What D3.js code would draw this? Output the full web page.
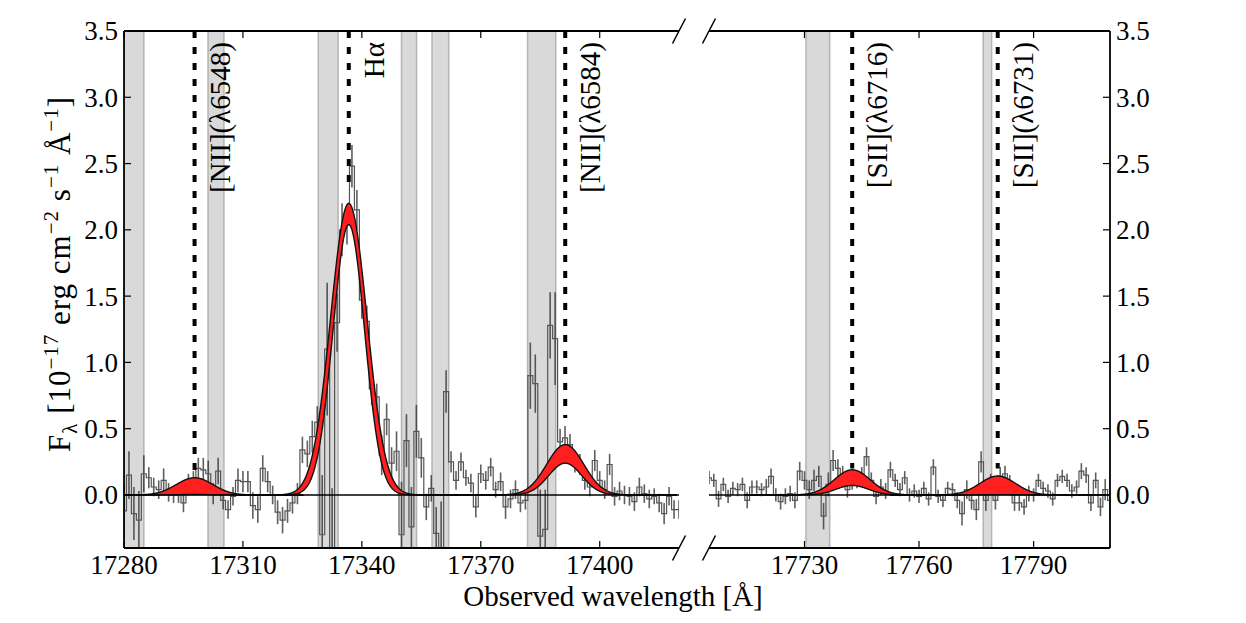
<!DOCTYPE html>
<html><head><meta charset="utf-8">
<script src="https://cdn.jsdelivr.net/npm/d3@7"></script>
<style>
body{margin:0;background:#fff}
svg{display:block}
text{font-family:"Liberation Serif","Times New Roman",serif;fill:#000}
</style>
</head><body>
<svg id="chart" width="1246" height="623"></svg>
<script>
// ---------------- data ----------------
const binStep = 1.25;           // Å per spectral bin
const leftStart = 17280;        // first bin, left panel
const rightStart = 17705;       // first bin, right panel

const leftFlux = [
 -0.12,0.15,-0.14,-0.19,0.16,0.13,0.06,0.04,0.11,0.02,
 0.00,0.01,-0.06,0.08,0.11,0.20,0.19,0.16,0.01,0.18,
 -0.04,-0.11,-0.01,0.11,0.10,0.10,-0.08,-0.11,0.20,0.10,
 0.00,-0.13,-0.19,-0.12,-0.06,0.01,0.34,0.31,0.44,0.55,
 -0.30,1.10,-0.45,1.30,2.00,2.04,2.48,2.15,1.47,1.31,
 0.80,0.74,0.30,0.57,0.24,0.33,-0.30,0.41,-0.24,0.48,
 0.28,-0.09,0.05,-0.29,-0.40,0.78,0.25,0.11,0.25,0.13,
 0.09,-0.09,0.16,0.11,0.21,0.04,0.10,-0.09,-0.03,0.04,
 -0.06,-0.04,0.90,0.84,-0.31,-0.26,1.28,1.18,0.40,0.43,
 0.38,0.25,0.23,0.11,0.06,0.26,0.11,0.04,0.23,-0.01,
 0.03,0.00,-0.01,-0.05,0.06,0.01,-0.03,-0.01,-0.06,-0.14,
 -0.01,-0.11,-0.11
];
const leftErr = [
 0.20,0.18,0.20,0.22,0.14,
 0.08,0.07,0.07,0.09,0.07,0.06,0.07,0.07,0.08,0.07,0.08,0.09,0.10,0.08,0.10,0.07,
 0.07,0.07,0.09,0.08,0.08,0.10,0.10,0.10,0.08,0.07,0.09,0.10,0.09,0.08,0.08,
 0.10,0.10,0.12,0.12,
 0.45,0.50,0.50,
 0.22,0.20,0.15,0.16,0.15,0.14,0.12,0.12,0.10,0.15,0.12,
 0.12,0.15,0.40,0.20,0.30,0.20,0.15,
 0.10,0.10,0.20,0.35,0.16,
 0.08,0.07,0.07,0.06,0.07,0.08,0.07,0.07,0.07,0.06,0.07,0.09,0.07,0.07,0.07,0.07,
 0.25,0.22,0.35,0.30,0.25,0.35,
 0.10,0.09,0.08,0.08,0.08,0.07,0.07,0.08,0.07,0.07,0.08,0.07,0.07,0.07,0.07,0.07,
 0.07,0.07,0.07,0.06,0.07,0.08,0.07,0.07,0.07
];
const rightFlux = [
 0.13,0.11,-0.03,0.08,-0.01,0.05,0.04,0.08,-0.04,0.06,
 0.06,0.04,0.06,0.14,0.00,-0.05,-0.01,0.01,-0.04,0.18,
 0.11,0.04,0.11,0.14,-0.16,0.08,0.26,0.20,0.15,0.04,
 0.10,0.11,0.15,0.29,0.11,-0.01,0.06,0.03,0.19,0.11,
 0.04,0.13,0.00,0.03,-0.01,0.05,-0.03,0.21,-0.01,-0.04,
 0.05,0.04,-0.04,-0.14,0.04,-0.04,-0.11,0.25,-0.04,0.08,
 -0.04,0.14,0.16,0.09,-0.06,-0.06,-0.09,0.01,0.00,0.11,
 0.05,0.03,-0.03,0.11,0.14,0.11,0.03,0.06,0.18,0.15,
 -0.06,0.11,-0.09,0.04,-0.04
];
const rightErr = [
 0.05,0.05,0.06,0.05,0.05,0.05,0.05,0.05,0.06,0.05,
 0.05,0.05,0.06,0.06,0.05,0.06,0.06,0.06,0.06,0.07,
 0.07,0.07,0.08,0.08,0.10,0.09,0.08,0.07,0.07,0.06,
 0.06,0.06,0.06,0.07,0.06,0.06,0.06,0.06,0.06,0.05,
 0.05,0.05,0.05,0.05,0.05,0.05,0.05,0.06,0.05,0.05,
 0.05,0.05,0.06,0.09,0.07,0.07,0.08,0.08,0.08,0.08,
 0.07,0.07,0.06,0.06,0.06,0.06,0.06,0.06,0.05,0.05,
 0.05,0.05,0.05,0.05,0.05,0.05,0.05,0.05,0.06,0.06,
 0.06,0.06,0.07,0.08,0.15
];

// emission lines
const lineNames   = ["[NII](λ6548)", "Hα", "[NII](λ6584)", "[SII](λ6716)", "[SII](λ6731)"];
const lineCenters = [17297.8, 17336.7, 17391.3, 17742.5, 17780.6];
const linePanel   = [0, 0, 0, 1, 1];
const dashBottom  = [0.18, 2.33, 0.58, 0.20, 0.20];
const ampUpper    = [0.13, 2.20, 0.38, 0.19, 0.143];
const ampLower    = [0.004, 2.04, 0.24, 0.072, 0.003];
const sigUpper    = [4.6, 4.6, 4.7, 4.7, 4.7];
const sigLower    = [4.0, 4.0, 4.2, 4.2, 4.2];

// masked sky-line regions
const skyBands = [[17276,17285],[17301.2,17305.2],[17329,17334],[17350,17353.8],
                  [17357.7,17361.9],[17381.8,17388.9],[17730.4,17736.6],[17776.8,17779]];

const leftTicks  = [17280, 17310, 17340, 17370, 17400];
const rightTicks = [17730, 17760, 17790];
const yTicks     = [0, 0.5, 1.0, 1.5, 2.0, 2.5, 3.0, 3.5];

// ---------------- layout ----------------
const svg = d3.select("#chart");
const yTop = 31, yBot = 548;
const y = d3.scaleLinear().domain([-0.4, 3.5]).range([yBot, yTop]);
const panels = [
  {x: d3.scaleLinear().domain([17280, 17420]).range([124, 679]),
   start: leftStart, flux: leftFlux, err: leftErr, ticks: leftTicks, side: "left"},
  {x: d3.scaleLinear().domain([17705, 17810]).range([709, 1110]),
   start: rightStart, flux: rightFlux, err: rightErr, ticks: rightTicks, side: "right"}
];

const defs = svg.append("defs");
panels.forEach((p, k) => {
  const [x0, x1] = p.x.range();
  defs.append("clipPath").attr("id", "clip" + k)
    .append("rect").attr("x", x0).attr("y", yTop).attr("width", x1 - x0).attr("height", yBot - yTop);
});

panels.forEach((p, k) => {
  const g = svg.append("g").attr("clip-path", `url(#clip${k})`);
  const [d0, d1] = p.x.domain();
  skyBands.filter(b => b[1] > d0 && b[0] < d1).forEach(b => {
    g.append("rect")
      .attr("x", p.x(b[0])).attr("y", yTop)
      .attr("width", p.x(b[1]) - p.x(b[0])).attr("height", yBot - yTop)
      .attr("fill", "#d9d9d9").attr("stroke", "#b4b4b4").attr("stroke-width", 1.5);
  });
  const pts = p.flux.map((f, i) => ({w: p.start + i * binStep, f, e: p.err[i]}));
  g.selectAll("line.err").data(pts).enter().append("line")
    .attr("x1", d => p.x(d.w)).attr("x2", d => p.x(d.w))
    .attr("y1", d => y(d.f - d.e)).attr("y2", d => y(d.f + d.e))
    .attr("stroke", "#2a2a2a").attr("stroke-width", 1.6).attr("opacity", 0.75);
  const ext = [{w: pts[0].w - binStep / 2, f: pts[0].f}, ...pts,
               {w: pts[pts.length - 1].w + binStep / 2, f: pts[pts.length - 1].f}];
  g.append("path").datum(ext)
    .attr("d", d3.line().x(d => p.x(d.w)).y(d => y(d.f)).curve(d3.curveStep))
    .attr("fill", "none").attr("stroke", "#555").attr("stroke-width", 1.2);

  lineCenters.forEach((c, m) => {
    if (linePanel[m] !== k) return;
    const grid = d3.range(c - 6 * sigUpper[m], c + 6 * sigUpper[m], 0.1);
    const gu = w => ampUpper[m] * Math.exp(-0.5 * ((w - c) / sigUpper[m]) ** 2);
    const gl = w => ampLower[m] * Math.exp(-0.5 * ((w - c) / sigLower[m]) ** 2);
    g.append("path").datum(grid)
      .attr("d", d3.area().x(w => p.x(w)).y0(w => y(gl(w))).y1(w => y(gu(w))))
      .attr("fill", "#ff1f1f").attr("stroke", "none");
    [gu, gl].forEach(fn => {
      g.append("path").datum(grid)
        .attr("d", d3.line().x(w => p.x(w)).y(w => y(fn(w))))
        .attr("fill", "none").attr("stroke", "#111").attr("stroke-width", 1.4);
    });
  });

  g.append("line").attr("x1", p.x(d0)).attr("x2", p.x(d1))
    .attr("y1", y(0)).attr("y2", y(0)).attr("stroke", "#000").attr("stroke-width", 1.5);

  lineCenters.forEach((c, m) => {
    if (linePanel[m] !== k) return;
    g.append("line").attr("x1", p.x(c)).attr("x2", p.x(c))
      .attr("y1", y(3.5)).attr("y2", y(dashBottom[m]))
      .attr("stroke", "#000").attr("stroke-width", 4).attr("stroke-dasharray", "7,9");
    svg.append("text")
      .attr("transform", `translate(${p.x(c) + 35},${42}) rotate(-90)`)
      .attr("text-anchor", "end").attr("font-size", 29).text(lineNames[m]);
  });

  const ax = svg.append("g");
  const [x0, x1] = p.x.range();
  ax.append("line").attr("x1", x0).attr("x2", x1).attr("y1", yTop).attr("y2", yTop).attr("stroke", "#000").attr("stroke-width", 1.8);
  ax.append("line").attr("x1", x0).attr("x2", x1).attr("y1", yBot).attr("y2", yBot).attr("stroke", "#000").attr("stroke-width", 1.8);
  const sx = p.side === "left" ? x0 : x1;
  ax.append("line").attr("x1", sx).attr("x2", sx).attr("y1", yTop).attr("y2", yBot).attr("stroke", "#000").attr("stroke-width", 1.8);

  p.ticks.forEach(t => {
    const xx = p.x(t);
    ax.append("line").attr("x1", xx).attr("x2", xx).attr("y1", yBot).attr("y2", yBot - 7).attr("stroke", "#000").attr("stroke-width", 1.2);
    ax.append("line").attr("x1", xx).attr("x2", xx).attr("y1", yTop).attr("y2", yTop + 7).attr("stroke", "#000").attr("stroke-width", 1.2);
    ax.append("text").attr("x", xx).attr("y", 574).attr("text-anchor", "middle")
      .attr("font-size", 27).text(d3.format("d")(t));
  });
  const dir = p.side === "left" ? 1 : -1;
  yTicks.forEach(t => {
    ax.append("line").attr("x1", sx).attr("x2", sx + dir * 7).attr("y1", y(t)).attr("y2", y(t))
      .attr("stroke", "#000").attr("stroke-width", 1.2);
    ax.append("text").attr("x", sx - dir * 6).attr("y", y(t)).attr("dy", "0.35em")
      .attr("text-anchor", p.side === "left" ? "end" : "start")
      .attr("font-size", 27).text(d3.format(".1f")(t));
  });
});

// axis-break marks
[panels[0].x.range()[1], panels[1].x.range()[0]].forEach(bx => {
  [yTop, yBot].forEach(by => {
    svg.append("line").attr("x1", bx - 6.5).attr("y1", by + 12.5).attr("x2", bx + 6.5).attr("y2", by - 12.5)
      .attr("stroke", "#000").attr("stroke-width", 1.5);
  });
});

svg.append("text").attr("x", 613).attr("y", 606).attr("text-anchor", "middle")
  .attr("font-size", 29).text("Observed wavelength [Å]");

const yl = svg.append("text").attr("transform", "translate(70,274) rotate(-90)")
  .attr("text-anchor", "middle").attr("font-size", 31).attr("letter-spacing", 1);
const parts = [["F",0],["λ",-1],[" [10",0],["−17",1],[" erg cm",0],["−2",1],[" s",0],["−1",1],[" Å",0],["−1",1],["]",0]];
let prev = 0;
parts.forEach(([t, s]) => {
  const shift = s === 1 ? -12 : (s === -1 ? 7 : 0);
  yl.append("tspan").attr("dy", shift - prev).attr("font-size", s === 0 ? 31 : 21).text(t);
  prev = shift;
});
</script>
</body></html>
